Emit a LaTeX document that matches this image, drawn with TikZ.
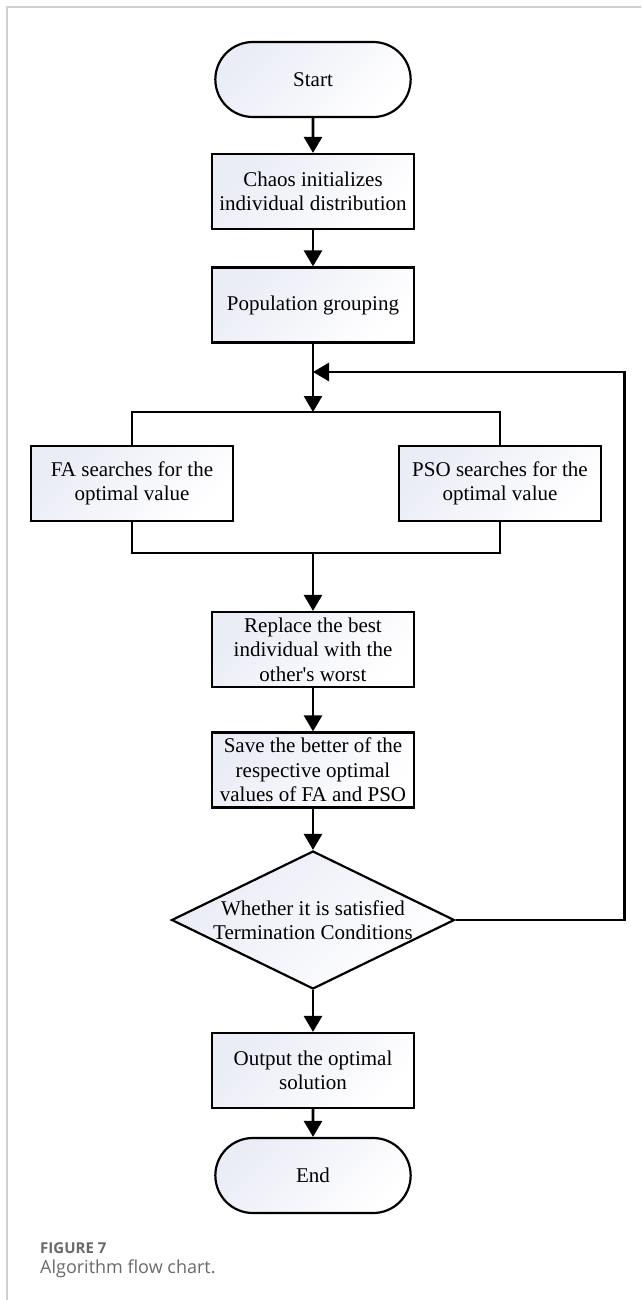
\documentclass[tikz,border=0pt]{standalone}
\usepackage{fontspec}
\setmainfont{Liberation Serif}[Ligatures=TeXOff]
\newfontfamily\captionfont{Open Sans}
\usepackage{tikz}
\definecolor{flowTint}{RGB}{234,236,246}
\definecolor{frameGrey}{RGB}{208,208,208}
\definecolor{captionGrey}{RGB}{105,105,105}
\usetikzlibrary{shapes.geometric, shapes.misc, arrows.meta, positioning}
\tikzstyle{block} = [draw, line width=2.2pt, rectangle, top color=flowTint, bottom color=white, shading angle=45, minimum height=75pt, minimum width=202pt, align=center, font=\fontsize{21}{24.5}\selectfont]
\tikzstyle{terminal} = [block, rounded rectangle]
\tikzstyle{decision} = [block, diamond, aspect=2.05, minimum width=283pt, minimum height=138pt, inner sep=-4pt]
\tikzstyle{line} = [draw, line width=2.8pt]

\begin{document}
\begin{tikzpicture}[x=1pt, y=-1pt, >={Triangle[length=16pt,width=18pt]}]
        \useasboundingbox (0,0) rectangle (641,1300);
        % frame of the figure
        \draw [frameGrey, line width=1.5pt] (641,7) -- (7,7) -- (7,1300);

        % We start by placing the blocks
        \node [terminal] (start) at (313,79.5) {Start};
        \node [block, below of=start, node distance=112pt] (chaosInit) {Chaos initializes\\individual distribution};
        \node [block, below of=chaosInit, node distance=113.5pt] (popGroup) {Population grouping};
        \node [block, below of=popGroup, node distance=178.5pt, xshift=-181pt] (faSearch) {FA searches for the\\optimal value};
        \node [block, below of=popGroup, node distance=178.5pt, xshift=187pt] (psoSearch) {PSO searches for the\\optimal value};
        \node [block, below of=popGroup, node distance=344.5pt] (replaceBest) {Replace the best\\individual with the\\other's worst};
        \node [block, below of=replaceBest, node distance=120.5pt] (saveBetter) {Save the better of the\\respective optimal\\values of FA and PSO};
        \node [decision, below of=saveBetter, node distance=150pt] (termCheck) {Whether it is satisfied\\Termination Conditions};
        \node [block, below of=termCheck, node distance=150.5pt] (outputSol) {Output the optimal\\solution};
        \node [terminal, below of=outputSol, node distance=105pt] (endNode) {End};

        \coordinate [below of=popGroup, node distance=67pt] (loopJoin);
        \coordinate [below of=popGroup, node distance=107pt] (splitTop);
        \coordinate [below of=popGroup, node distance=248pt] (mergeBot);

        % caption
        \node [anchor=base west, inner sep=0pt, text=captionGrey, font=\captionfont\fontsize{15}{17}\selectfont\bfseries] (figNum) at (40,1253) {FIGURE 7};
        \node [anchor=base west, inner sep=0pt, text=captionGrey, font=\captionfont\fontsize{18}{21}\selectfont] (figText) at (40,1273) {Algorithm flow chart.};

        % Once the nodes are placed, connecting them is easy.
        \draw [line, ->] (start) -- (chaosInit);
        \draw [line, ->] (chaosInit) -- (popGroup);
        \draw [line, ->] (popGroup) -- (splitTop);
        \draw [line] (faSearch.north) |- (splitTop) -| (psoSearch.north);
        \draw [line] (faSearch.south) |- (mergeBot) -| (psoSearch.south);
        \draw [line, ->] (mergeBot) -- (replaceBest);
        \draw [line, ->] (replaceBest) -- (saveBetter);
        \draw [line, ->] (saveBetter) -- (termCheck);
        \draw [line, ->] (termCheck) -- (outputSol);
        \draw [line, ->] (outputSol) -- (endNode);
        \draw [line, ->] (termCheck.east) -- ++(169pt,0) |- (loopJoin);
    \end{tikzpicture}
\end{document}
